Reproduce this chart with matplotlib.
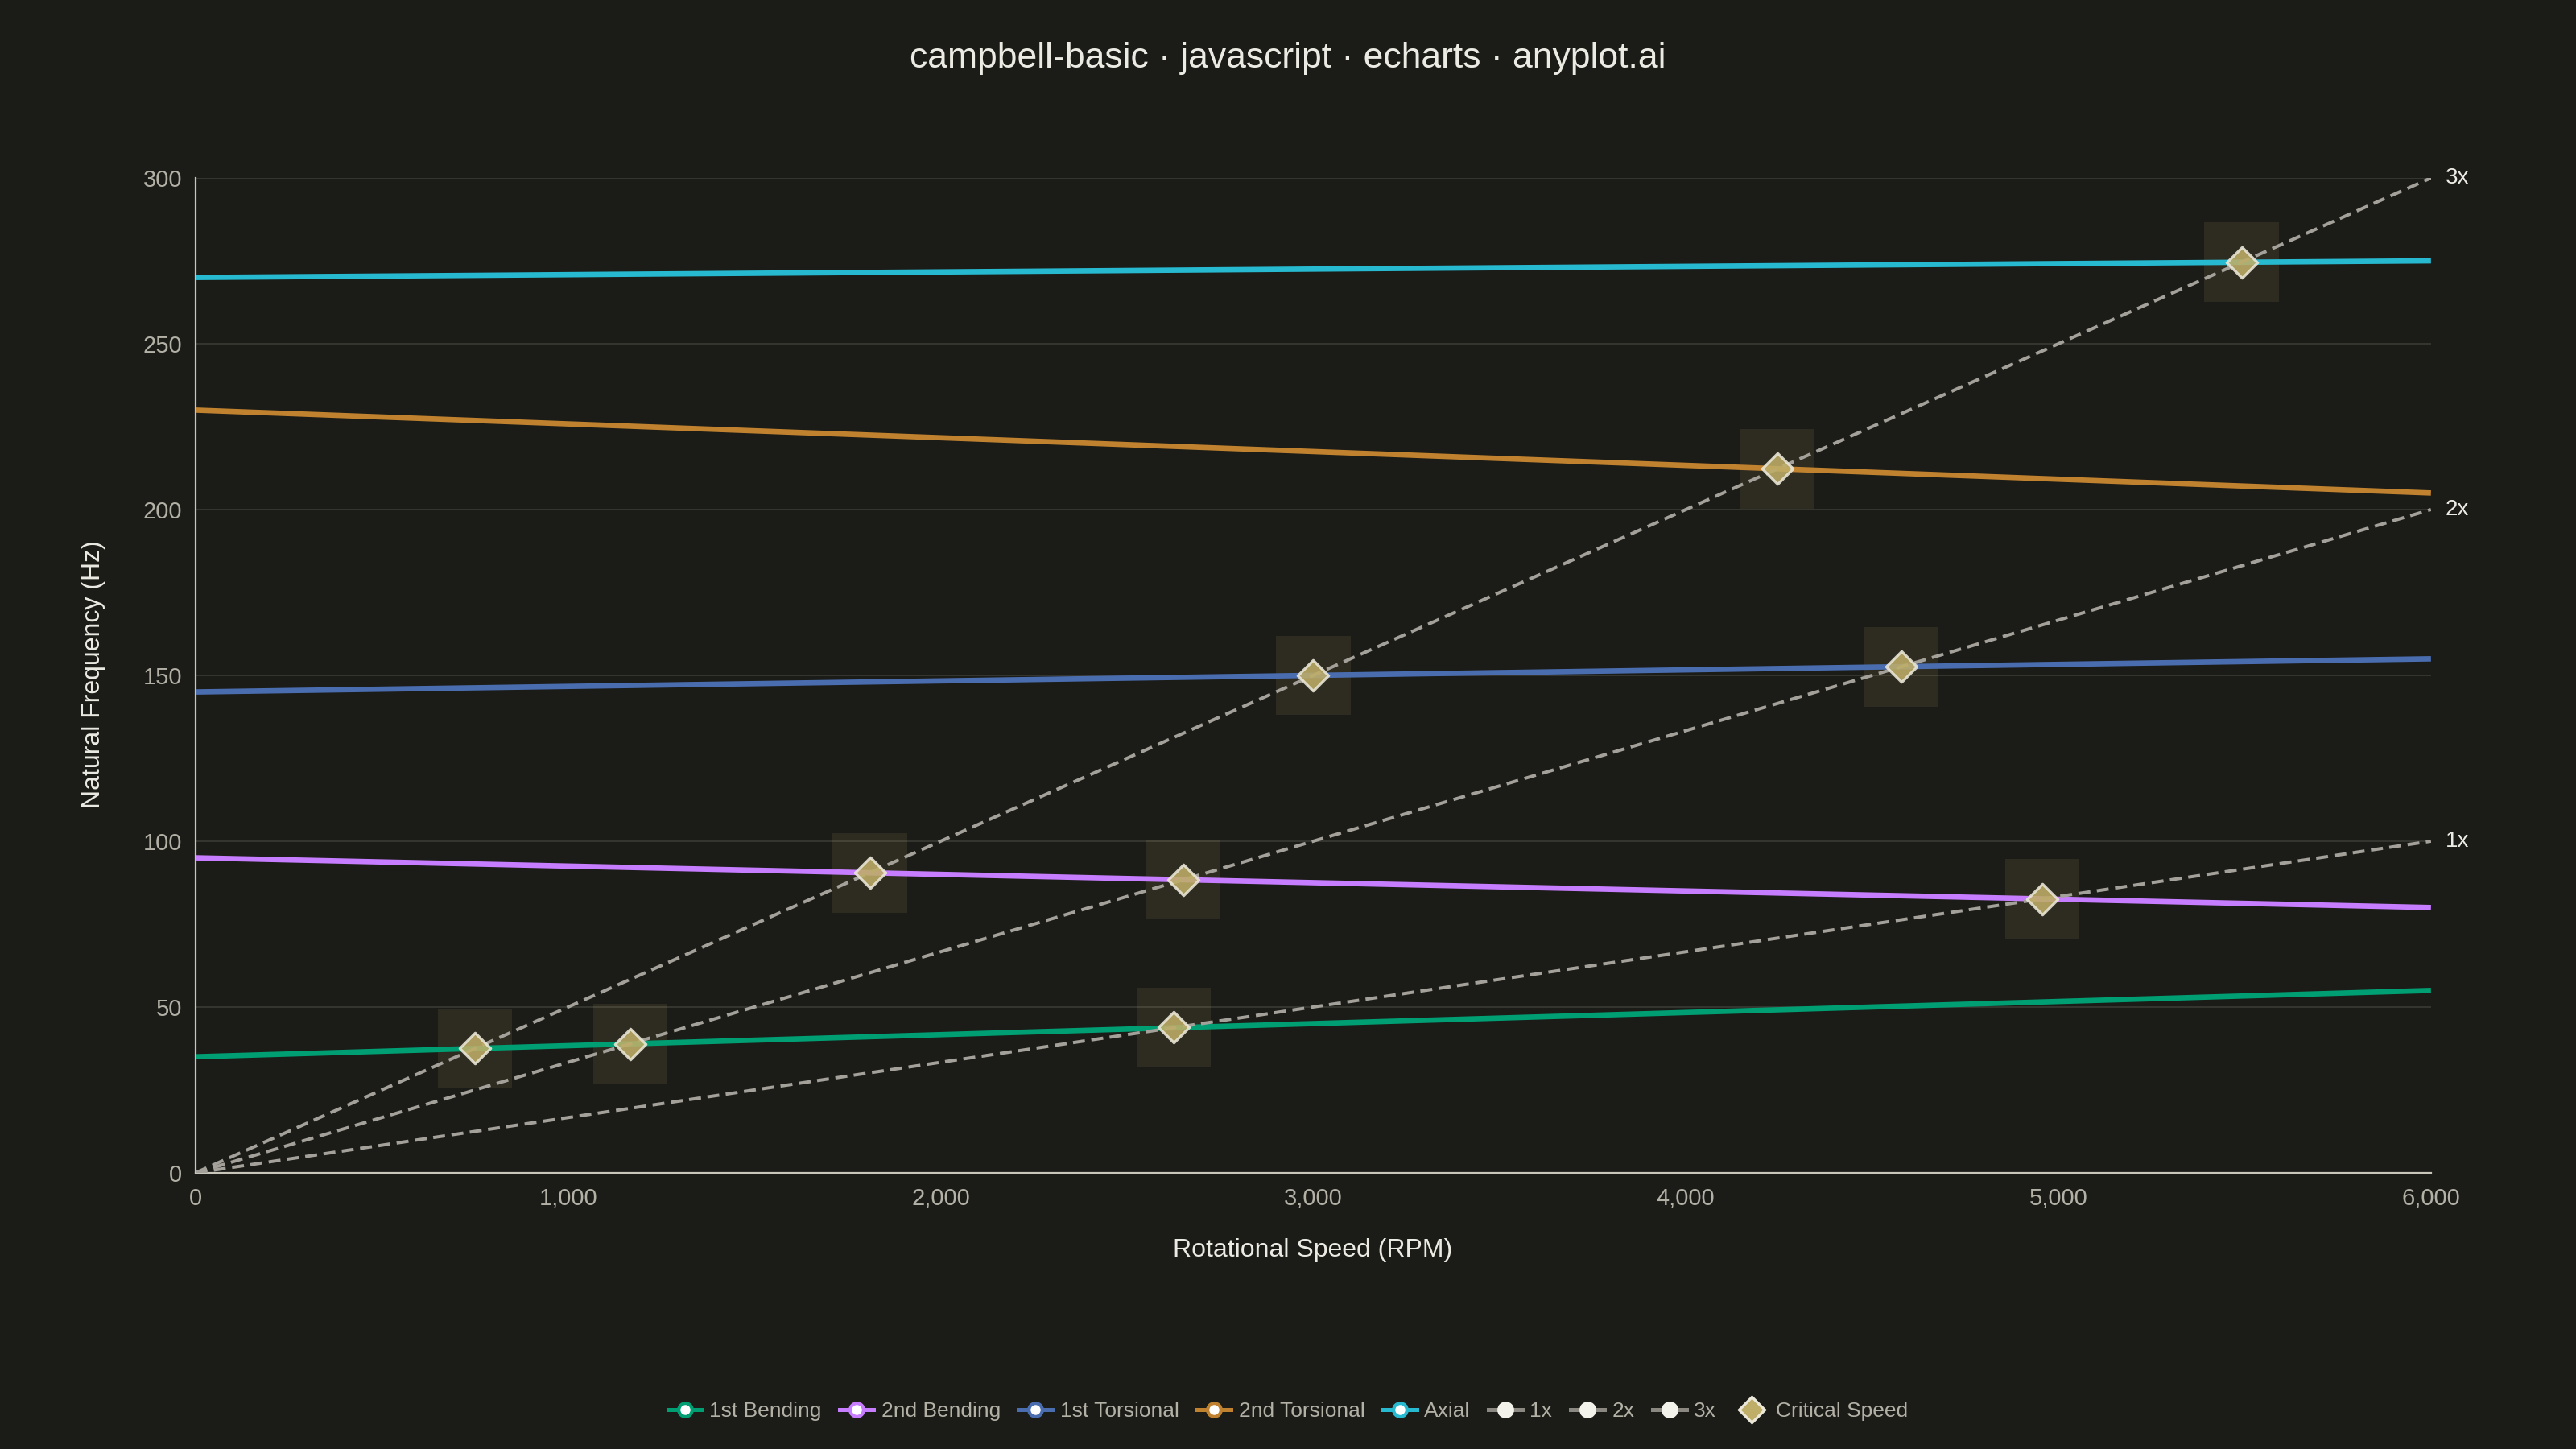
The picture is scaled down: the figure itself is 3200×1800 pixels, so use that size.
import matplotlib.pyplot as plt
from matplotlib.lines import Line2D
from matplotlib.patches import Rectangle

# data
rpm = [0, 3000, 6000]
first_bending = [35, 45, 55]
second_bending = [95, 87.5, 80]
first_torsional = [145, 150, 155]
second_torsional = [230, 217.5, 205]
axial = [270, 272.5, 275]

mode_names = ["1st Bending", "2nd Bending", "1st Torsional", "2nd Torsional", "Axial"]
mode_colors = ["#009e73", "#c77dff", "#4a6db0", "#c0822f", "#27b9cf"]

order_rpm = [0, 6000]
order_1x = [0, 100]
order_2x = [0, 200]
order_3x = [0, 300]
order_names = ["1x", "2x", "3x"]

crit_rpm = [750, 1167, 2625, 1810, 2651, 4957, 3000, 4579, 4246, 5492]
crit_hz = [37.5, 38.9, 43.8, 90.5, 88.4, 82.6, 150.0, 152.6, 212.3, 274.6]

BG = "#1b1b17"
TICK = "#b3b1a6"
TEXT = "#ecebe3"
TAN = "#bfae68"

plt.rcParams["font.family"] = ["Liberation Sans", "DejaVu Sans"]

fig = plt.figure(figsize=(16, 9), dpi=200, facecolor=BG)
ax = fig.add_axes([0.0759, 0.1906, 0.8678, 0.6866])
ax.set_facecolor(BG)

modes = [first_bending, second_bending, first_torsional, second_torsional, axial]
for vals, name, col in zip(modes, mode_names, mode_colors):
    ax.plot(rpm, vals, color=col, lw=2.4, solid_capstyle="butt", zorder=3)

for vals, name in zip([order_1x, order_2x, order_3x], order_names):
    ax.plot(order_rpm, vals, color="#a3a199", lw=1.45, dashes=(3.7, 2.0), zorder=4)
    ax.annotate(name, (order_rpm[-1], vals[-1]), xytext=(6.5, 0), textcoords="offset points",
                ha="left", va="center", color=TEXT, fontsize=10, annotation_clip=False)

# highlight boxes around the critical speeds
for x, y in zip(crit_rpm, crit_hz):
    ax.add_patch(Rectangle((x - 100, y - 12), 200, 24, facecolor=TAN, alpha=0.12,
                           edgecolor="none", zorder=2))

ax.scatter(crit_rpm, crit_hz, marker="D", s=95, facecolor=TAN, edgecolor="#ebe8da",
           linewidth=1.2, alpha=0.88, zorder=5)

ax.set_xlim(0, 6000)
ax.set_ylim(0, 300)
ax.set_xticks(range(0, 6001, 1000))
ax.set_xticklabels(["0", "1,000", "2,000", "3,000", "4,000", "5,000", "6,000"])
ax.set_yticks(range(0, 301, 50))
ax.tick_params(length=0, labelsize=10.5, colors=TICK)
ax.tick_params(axis="x", pad=6.5)
ax.tick_params(axis="y", pad=6)
ax.grid(axis="y", color="#3b3b36", lw=0.6)
ax.set_axisbelow(True)
for s in ["top", "right"]:
    ax.spines[s].set_visible(False)
for s in ["left", "bottom"]:
    ax.spines[s].set_color("#c8c6bb")
    ax.spines[s].set_linewidth(0.8)

fig.text(0.5, 0.9595, "campbell-basic · javascript · echarts · anyplot.ai", ha="center", va="center",
         color=TEXT, fontsize=16)
fig.text(0.5097, 1 - 1553 / 1800, "Rotational Speed (RPM)", ha="center", va="center",
         color=TEXT, fontsize=11.5)
fig.text(116 / 3200, 1 - 838 / 1800, "Natural Frequency (Hz)", ha="center", va="center",
         rotation=90, color=TEXT, fontsize=11.5)

handles = []
for name, col in zip(mode_names, mode_colors):
    handles.append(Line2D([], [], color=col, lw=1.8, marker="o", ms=6, mfc="white",
                          mec=col, mew=1.5, label=name))
for name in order_names:
    handles.append(Line2D([], [], color="#8a8880", lw=1.8, marker="o", ms=6.5, mfc="#f2f1ea",
                          mec="#f2f1ea", label=name))
handles.append(Line2D([], [], color="none", marker="D", ms=8, mfc=TAN, mec="#ebe8da",
                      mew=1.2, label="Critical Speed"))
leg = fig.legend(handles=handles, loc="center", bbox_to_anchor=(0.5, 1 - 1753 / 1800), ncol=9,
                 frameon=False, fontsize=9.5, handlelength=1.6, handletextpad=0.35,
                 columnspacing=0.85, labelcolor=TICK)

fig.savefig("out.png", dpi=200, facecolor=BG)
